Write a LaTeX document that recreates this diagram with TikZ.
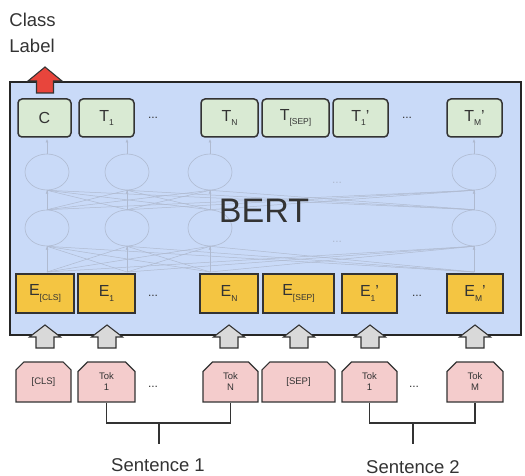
\documentclass[tikz,border=0pt]{standalone}
\usepackage{fontspec}
\setmainfont{Liberation Sans}
\usetikzlibrary{positioning, calc, arrows.meta, shapes.misc, shapes.geometric}

\definecolor{bertblue}{HTML}{C9DAF8}
\definecolor{outgreen}{HTML}{D9EAD3}
\definecolor{embyellow}{HTML}{F4C542}
\definecolor{tokpink}{HTML}{F4CCCC}
\definecolor{clsred}{HTML}{E8453C}
\definecolor{upgray}{HTML}{D9D9D9}
\definecolor{netgray}{HTML}{AFBAD0}
\definecolor{ink}{HTML}{333333}

\newcommand{\lsub}[1]{\raisebox{-0.55ex}{\fontsize{8.5}{8.5}\selectfont #1}}

% block arrow pointing up: shaft half width, head half width, head length, shaft length
\tikzset{
  pics/blockup/.style n args={4}{code={
    \draw[line width=1.1pt, draw=ink, pic actions]
      (-#1,#4) -- (-#1,0) -- (-#2,0) -- (0,-#3) -- (#2,0) -- (#1,0) -- (#1,#4) -- cycle;
  }},
}

\begin{document}
\begin{tikzpicture}[
  x=1pt, y=-1pt, thick, text=ink,
  >={Latex[length=1.2mm, width=1mm]},
  bertframe/.style = {draw=black!85, fill=bertblue, line width=1.8pt, inner sep=0pt},
  outbox/.style  = {draw=ink, fill=outgreen, rounded corners=4pt, line width=1.5pt,
                    minimum height=38pt, inner sep=0pt, font=\fontsize{16}{16}\selectfont},
  embbox/.style  = {draw=ink, fill=embyellow, line width=1.3pt,
                    minimum height=39pt, inner sep=0pt, font=\fontsize{16}{16}\selectfont},
  tokbox/.style  = {chamfered rectangle, chamfered rectangle corners={north west, north east},
                    chamfered rectangle xsep=6pt, draw=ink, fill=tokpink, line width=1.1pt,
                    minimum height=40pt, inner sep=0pt, align=center,
                    font=\fontsize{9.5}{11}\selectfont},
  neuron/.style  = {ellipse, draw=netgray, line width=0.6pt, minimum width=44pt, minimum height=36pt},
  netline/.style = {draw=netgray, line width=0.5pt},
  dots/.style    = {font=\fontsize{12}{12}\selectfont},
  brace/.style   = {draw=ink, line width=1.1pt},
  caption/.style = {font=\fontsize{18.5}{26}\selectfont},
]
  \useasboundingbox (0,0) rectangle (525,476);

  % BERT body
  \node[bertframe, minimum width=511pt, minimum height=253pt] (bertbox) at (265.5,208.5) {};

  % faint network inside
  \foreach \c/\x in {1/47, 2/127, 3/210, 4/474} {
    \node[neuron] (u\c) at (\x,172) {};
    \node[neuron] (l\c) at (\x,228) {};
    \coordinate (b\c) at (\x,272);
    \coordinate (t\c) at (\x,139);
  }
  \foreach \i in {1,...,4} {
    \draw[netline, ->] (b\i) -- (l\i);
    \draw[netline, ->] (l\i) -- (u\i);
    \draw[netline, ->] (u\i) -- (t\i);
    \foreach \j in {1,...,4} {
      \draw[netline] (b\i) -- (l\j.south);
      \draw[netline] (l\i.north) -- (u\j.south);
    }
  }
  \node[dots, text=netgray] (ndots1) at (337,183) {...};
  \node[dots, text=netgray] (ndots2) at (337,242) {...};

  \node[font=\fontsize{34}{34}\selectfont] (bert) at (264,211) {BERT};

  % class label output
  \pic[fill=clsred] (clsarrow) at (45,81) {blockup={8.5}{17}{14}{12}};
  \node[caption, align=left, anchor=north west, inner sep=0pt] (clslabel) at (9,13) {Class\\Label};

  % output row
  \node[outbox, minimum width=53pt] (C)    at (44.5,118)  {C};
  \node[outbox, minimum width=55pt] (T1)   at (106.5,118) {T\lsub{1}};
  \node[dots]                       (td1)  at (153,118)   {...};
  \node[outbox, minimum width=57pt] (TN)   at (229.5,118) {T\lsub{N}};
  \node[outbox, minimum width=67pt] (Tsep) at (295.5,118) {T\lsub{[SEP]}};
  \node[outbox, minimum width=55pt] (T1p)  at (360.5,118) {T\lsub{1}'};
  \node[dots]                       (td2)  at (407,118)   {...};
  \node[outbox, minimum width=55pt] (TMp)  at (474.5,118) {T\lsub{M}'};

  % embedding row
  \node[embbox, minimum width=58pt] (Ecls) at (45,293.5)    {E\lsub{[CLS]}};
  \node[embbox, minimum width=57pt] (E1)   at (106.5,293.5) {E\lsub{1}};
  \node[dots]                       (ed1)  at (153,296)     {...};
  \node[embbox, minimum width=58pt] (EN)   at (229,293.5)   {E\lsub{N}};
  \node[embbox, minimum width=71pt] (Esep) at (298.5,293.5) {E\lsub{[SEP]}};
  \node[embbox, minimum width=55pt] (E1p)  at (369.5,293.5) {E\lsub{1}'};
  \node[dots]                       (ed2)  at (417,296)     {...};
  \node[embbox, minimum width=56pt] (EMp)  at (475,293.5)   {E\lsub{M}'};

  % input arrows
  \foreach \x [count=\k] in {45, 107, 229, 299, 370, 475}
    \pic[fill=upgray] (a\k) at (\x,337) {blockup={9}{15.5}{12}{11}};

  % token row
  \node[tokbox, minimum width=55pt] (cls)   at (43.5,382)  {[CLS]};
  \node[tokbox, minimum width=57pt] (tok1)  at (106.5,382) {Tok\\1};
  \node[dots]                       (kd1)   at (153,387)   {...};
  \node[tokbox, minimum width=55pt] (tokN)  at (230.5,382) {Tok\\N};
  \node[tokbox, minimum width=73pt] (sep)   at (298.5,382) {[SEP]};
  \node[tokbox, minimum width=55pt] (tok1p) at (369.5,382) {Tok\\1};
  \node[dots]                       (kd2)   at (414,387)   {...};
  \node[tokbox, minimum width=56pt] (tokM)  at (475,382)   {Tok\\M};

  % sentences
  \coordinate (s1) at (159,423);
  \coordinate (s1b) at (159,444);
  \coordinate (s2) at (413,423);
  \coordinate (s2b) at (413,444);
  \draw[brace] (tok1.south) |- (s1) -| (tokN.south);
  \draw[brace] (s1) -- (s1b);
  \draw[brace] (tok1p.south) |- (s2) -| (tokM.south);
  \draw[brace] (s2) -- (s2b);
  \node[caption] (sent1) at (158,465) {Sentence 1};
  \node[caption] (sent2) at (413,467) {Sentence 2};
\end{tikzpicture}
\end{document}
